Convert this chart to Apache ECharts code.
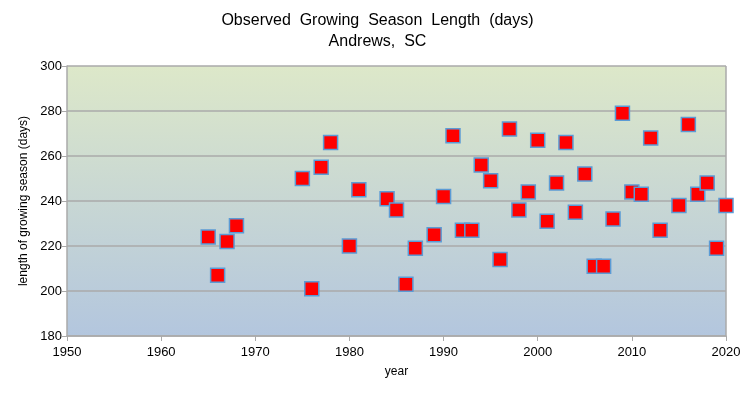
<!DOCTYPE html>
<html><head><meta charset="utf-8">
<script src="https://cdn.jsdelivr.net/npm/echarts@6/dist/echarts.min.js"></script>
<style>html,body{margin:0;padding:0;background:#fff}#c{width:755px;height:395px}</style>
</head><body><div id="c"></div>
<script>
var years = [1965,1966,1967,1968,1975,1976,1977,1978,1980,1981,1984,1985,1986,1987,1989,1990,1991,1992,1993,1994,1995,1996,1997,1998,1999,2000,2001,2002,2003,2004,2005,2006,2007,2008,2009,2010,2011,2012,2013,2015,2016,2017,2018,2019,2020];
var seasonDays = [224,207,222,229,250,201,255,266,220,245,241,236,203,219,225,242,269,227,227,256,249,214,272,236,244,267,231,248,266,235,252,211,211,232,279,244,243,268,227,238,274,243,248,219,238];
var titleLines = ['Observed  Growing  Season  Length  (days)', 'Andrews,  SC'];
var xName = 'year';
var yName = 'length of growing season (days)';

var data = years.map(function(y,i){return [y, seasonDays[i]];});
var chart = echarts.init(document.getElementById('c'));
var font = 'Liberation Sans, Arial, sans-serif';
chart.setOption({
  animation:false,
  title:{text:titleLines.join('\n'), left:'center', top:5,
    textStyle:{fontFamily:font,fontSize:16,fontWeight:'normal',color:'#000',lineHeight:21}},
  grid:{left:67,right:29,top:66,bottom:59,show:true,borderWidth:0,
    backgroundColor:new echarts.graphic.LinearGradient(0,0,0,1,[{offset:0,color:'#dde8c9'},{offset:1,color:'#b3c6de'}])},
  xAxis:{type:'value',min:1950,max:2020,interval:10,name:xName,nameLocation:'middle',nameGap:30,
    nameTextStyle:{fontFamily:font,fontSize:12,color:'#000'},
    axisLine:{show:true,lineStyle:{color:'#aaaaaa',width:1.5}},
    axisTick:{show:true,length:5,lineStyle:{color:'#aaaaaa'}},
    axisLabel:{fontFamily:font,fontSize:13,color:'#000',margin:10,formatter:function(v){return String(v);}},
    splitLine:{show:false}},
  yAxis:{type:'value',min:180,max:300,interval:20,name:yName,nameLocation:'middle',nameGap:36,
    nameTextStyle:{fontFamily:font,fontSize:12,color:'#000'},
    axisLine:{show:true,lineStyle:{color:'#aaaaaa',width:1.5}},
    axisTick:{show:true,length:5,lineStyle:{color:'#aaaaaa'}},
    axisLabel:{fontFamily:font,fontSize:13,color:'#000',margin:5},
    splitLine:{show:true,lineStyle:{color:'#aaaaaa',width:1.5}}},
  series:[{type:'scatter',data:data,symbol:'rect',symbolSize:14,
    itemStyle:{color:'#ff0000',borderColor:'#5b9bd5',borderWidth:1.5,opacity:1}},
    {type:'line',data:[[2020,180],[2020,300]],symbol:'none',silent:true,z:1,
    lineStyle:{color:'#aaaaaa',width:1.5}}]
});
</script></body></html>
